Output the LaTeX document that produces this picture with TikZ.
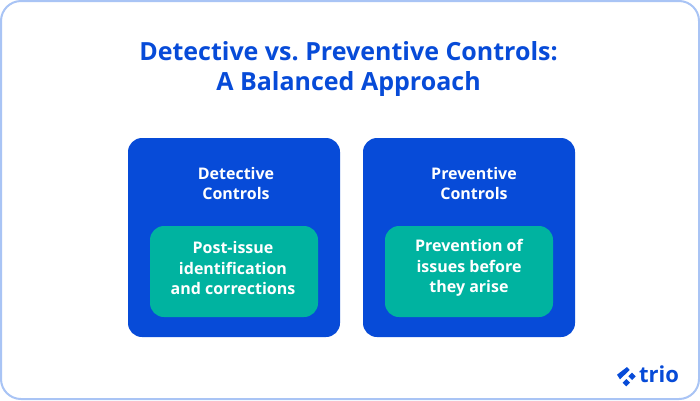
\documentclass[tikz,border=0pt]{standalone}
\usepackage{fontspec}
\setmainfont{Open Sans}
\frenchspacing
\definecolor{trioblue}{HTML}{074BD8}
\definecolor{triogreen}{HTML}{00B3A0}
\definecolor{trioedge}{HTML}{A9C4F5}
\tikzset{
  outerbox/.style={fill=trioblue,rounded corners=14pt,minimum width=212pt,minimum height=199pt,inner sep=0pt},
  innerbox/.style={fill=triogreen,rounded corners=14pt,minimum width=168pt,minimum height=91pt,inner sep=0pt},
  boxtext/.style={text=white,font=\fontsize{16}{20.5}\selectfont\bfseries,align=center},
  titletext/.style={text=trioblue,font=\fontsize{25}{30.5}\selectfont\bfseries,align=center}
}
\begin{document}
\begin{tikzpicture}[x=1pt,y=-1pt]
\useasboundingbox (0,0) rectangle (700,400);
\fill[white] (0,0) rectangle (700,400);
\draw[trioedge,line width=2pt,rounded corners=20pt] (1,1) rectangle (699,399);
\node[titletext] (title) at (348.5,69) {Detective vs. Preventive Controls:\\A Balanced Approach};
\node[outerbox] (detbox) at (234,237.5) {};
\node[outerbox] (prebox) at (469,237.5) {};
\node[innerbox] (detinner) at (234,271.5) {};
\node[innerbox] (preinner) at (469,271.5) {};
\node[boxtext] (dethead) at (236,183.5) {Detective\\Controls};
\node[boxtext] (prehead) at (474,183.5) {Preventive\\Controls};
\node[boxtext] (dettext) at (233,268) {Post-issue\\identification\\and corrections};
\node[boxtext] (pretext) at (469,268) {Prevention of\\issues before\\they arise};
% logo
\fill[trioblue] (617,374.7) -- (627,367) -- (629.7,370) -- (620,379.3) -- cycle;
\foreach \cx/\cy in {632/376.3,626.3/382.7} {
\fill[trioblue] (\cx-3.7,\cy) -- (\cx,\cy-3.7) -- (\cx+3.7,\cy) -- (\cx,\cy+3.7) -- cycle;
}
\node[text=trioblue,font=\fontsize{22}{22}\selectfont\bfseries,inner sep=0pt] (logo) at (659,374.5) {trio};
\end{tikzpicture}
\end{document}
